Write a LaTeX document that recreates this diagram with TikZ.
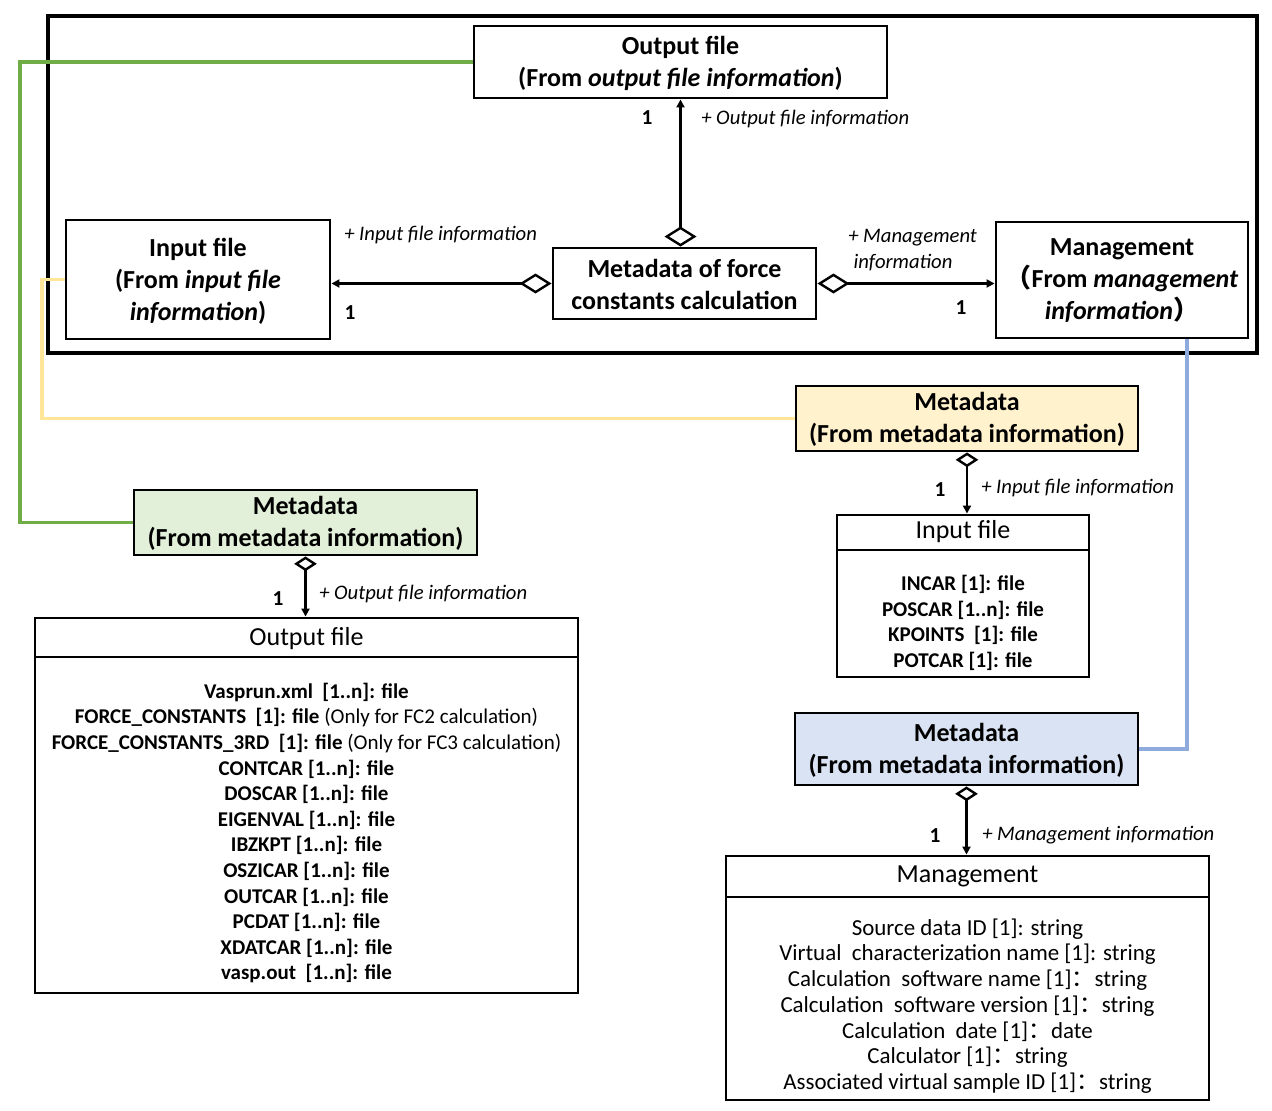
\documentclass[tikz,border=0pt]{standalone}
\usepackage{fontspec}
\setmainfont{Carlito}
\newfontfamily\cjk{Noto Sans CJK SC}
\usetikzlibrary{arrows.meta,fit}
\definecolor{gline}{HTML}{70AD47}
\definecolor{yline}{HTML}{FFE699}
\definecolor{bline}{HTML}{8FAADC}
\definecolor{gfill}{HTML}{E2F0D9}
\definecolor{yfill}{HTML}{FFF2CC}
\definecolor{bfill}{HTML}{DAE3F3}
\begin{document}
\begin{tikzpicture}[x=0.75pt,y=-0.75pt,
  box/.style={draw,line width=2.2pt,inner sep=0pt},
  sep/.style={line width=2.2pt},
  big/.style={font=\fontsize{19.5}{24}\selectfont\bfseries,align=center,inner sep=0pt},
  hdr/.style={font=\fontsize{19.5}{24}\selectfont,inner sep=0pt},
  lst/.style={font=\fontsize{15.75}{19.2}\selectfont,align=center,inner sep=0pt},
  mlst/.style={font=\fontsize{17.2}{19.3}\selectfont,align=center,inner sep=0pt},
  lab/.style={font=\fontsize{15.5}{19}\selectfont\itshape,anchor=west,inner sep=0pt},
  num/.style={font=\fontsize{16}{19}\selectfont\bfseries,inner sep=0pt},
  conn/.style={line width=1.8pt},
  aggV/.style={conn,{Diamond[open,length=15pt,width=24pt,line width=1.8pt]}-{Triangle[length=6pt,width=6pt]}},
  aggH/.style={conn,{Diamond[open,length=24pt,width=15pt,line width=1.8pt]}-{Triangle[length=6pt,width=6pt]}},
  aggS/.style={conn,{Diamond[open,length=11pt,width=17pt,line width=1.8pt]}-{Triangle[length=6pt,width=6pt]}},
  cline/.style={line width=2.5pt}]
\useasboundingbox (0,0) rectangle (1272,1111);

% outer frame
\draw[line width=3.2pt] (48,16) rectangle (1257,353);

% top boxes
\node[box, fit={(474,26)(887,98)}] (outTop) {};
\node[big] at (680.5,63) {Output file\\(From \textit{output file information})};
\node[box, fit={(66,220)(330,339)}] (inTop) {};
\node[big] at (198,281) {Input file\\(From \textit{input file}\\\textit{information})};
\node[box, fit={(553,248)(816,319)}] (meta) {};
\node[big] at (684.5,284) {Metadata of force\\constants calculation};
\node[box, fit={(996,222)(1248,338)}] (mgmtTop) {};
\node[big] at (1122,281) {Management\\{\cjk （}From \textit{management}\\\textit{information}{\cjk ）}};

% top connectors
\draw[aggV] (meta.north -| outTop.south) -- (outTop.south);
\draw[aggH] (meta.west) -- (meta.west -| inTop.east);
\draw[aggH] (meta.east) -- (meta.east -| mgmtTop.west);
\node[num] at (647,118) {1};
\node[lab] at (701,119) {+ Output file information};
\node[lab] at (344,235) {+ Input file information};
\node[num] at (350,313) {1};
\node[lab,align=left] at (848,250) {+ Management\\\hspace*{4pt}information};
\node[num] at (961,308) {1};

% green metadata + output file class
\node[box, fill=gfill, fit={(134,490)(477,555)}] (metaG) {};
\node[big] at (305.5,523) {Metadata\\(From metadata information)};
\node[box, fit={(35,618)(578,993)}] (outCls) {};
\draw[sep] (35,657) -- (578,657);
\node[hdr] at (306.5,639) {Output file};
\node[lst] at (306.5,833) {\textbf{Vasprun.xml\ \ [1..n]: file}\\
\textbf{FORCE\_CONSTANTS\ \ [1]: file} (Only for FC2 calculation)\\
\textbf{FORCE\_CONSTANTS\_3RD\ \ [1]: file} (Only for FC3 calculation)\\
\textbf{CONTCAR [1..n]: file}\\
\textbf{DOSCAR [1..n]: file}\\
\textbf{EIGENVAL [1..n]: file}\\
\textbf{IBZKPT [1..n]: file}\\
\textbf{OSZICAR [1..n]: file}\\
\textbf{OUTCAR [1..n]: file}\\
\textbf{PCDAT [1..n]: file}\\
\textbf{XDATCAR [1..n]: file}\\
\textbf{vasp.out\ \ [1..n]: file}};
\draw[aggS] (metaG.south) -- (metaG.south |- outCls.north);
\node[num] at (278,599) {1};
\node[lab] at (319,594) {+ Output file information};

% yellow metadata + input file class
\node[box, fill=yfill, fit={(796,386)(1138,451)}] (metaY) {};
\node[big] at (967,419) {Metadata\\(From metadata information)};
\node[box, fit={(837,515)(1089,677)}] (inCls) {};
\draw[sep] (837,550) -- (1089,550);
\node[hdr] at (963,532) {Input file};
\node[lst] at (963,623) {\textbf{INCAR [1]: file}\\
\textbf{POSCAR [1..n]: file}\\
\textbf{KPOINTS\ \ [1]: file}\\
\textbf{POTCAR [1]: file}};
\draw[aggS] (metaY.south) -- (metaY.south |- inCls.north);
\node[num] at (940,490) {1};
\node[lab] at (981,488) {+ Input file information};

% blue metadata + management class
\node[box, fill=bfill, fit={(795,713)(1138,785)}] (metaB) {};
\node[big] at (966.5,750) {Metadata\\(From metadata information)};
\node[box, fit={(726,856)(1209,1100)}] (mgmtCls) {};
\draw[sep] (726,897) -- (1209,897);
\node[hdr] at (967.5,876) {Management};
\node[mlst] at (967.5,1006) {Source data ID [1]: string\\
Virtual\ \ characterization name [1]: string\\
Calculation\ \ software name [1]{\cjk ：}string\\
Calculation\ \ software version [1]{\cjk ：}string\\
Calculation\ \ date [1]{\cjk ：}date\\
Calculator [1]{\cjk ：}string\\
Associated virtual sample ID [1]{\cjk ：}string};
\draw[aggS] (metaB.south) -- (metaB.south |- mgmtCls.north);
\node[num] at (935,836) {1};
\node[lab] at (982,835) {+ Management information};

% coloured links
\coordinate (gx) at (20,300);
\coordinate (yx) at (42,350);
\coordinate (bx) at (1187,600);
\draw[cline, gline] (outTop.west) -| (gx) |- (metaG.west);
\draw[cline, yline] (inTop.west) -| (yx) |- (metaY.west);
\draw[cline, bline] (mgmtTop.south -| bx) -- (bx) |- (metaB.east);
\end{tikzpicture}
\end{document}
